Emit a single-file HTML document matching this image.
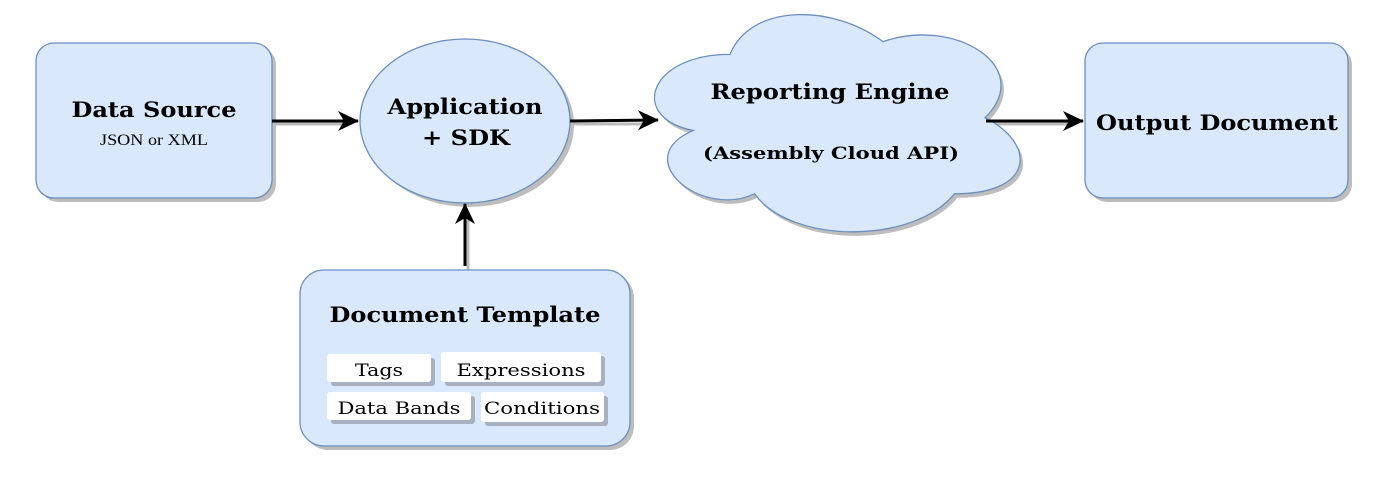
<!DOCTYPE html>
<html><head><meta charset="utf-8"><style>html,body{margin:0;padding:0;background:#fff}svg{display:block}</style></head><body>
<svg width="1385" height="485" viewBox="0 0 1385 485" xmlns="http://www.w3.org/2000/svg" font-family="'DejaVu Serif', 'Liberation Serif', serif">
<defs>
<marker id="ah" markerWidth="22" markerHeight="22" refX="20" refY="11" orient="auto" markerUnits="userSpaceOnUse"><path d="M0,1 L21,11 L0,21 L6,11 Z" fill="#000"/></marker>
</defs>
<g fill="#bdbdbd">
<rect x="40" y="47" width="236" height="155" rx="18"/>
<ellipse cx="469" cy="125" rx="105" ry="82"/>
<rect x="1089" y="47" width="263" height="155" rx="18"/>
<rect x="304" y="274" width="330" height="176" rx="24"/>
<path transform="translate(631,-5) scale(0.988,1)" d="M103.25,63.375 C20.65,63.375 0,126.75 66.08,139.425 C0,167.31 74.34,228.15 128.03,202.8 C165.2,253.5 289.1,253.5 330.4,202.8 C413,202.8 413,152.1 361.375,126.75 C413,76.05 330.4,25.35 258.125,50.7 C206.5,12.675 123.9,12.675 103.25,63.375 Z"/>
</g>
<g stroke="#bbb" stroke-width="3" fill="none">
<line x1="275" y1="124" x2="345" y2="124"/><line x1="573" y1="124" x2="645" y2="124"/><line x1="989" y1="124" x2="1070" y2="124"/><line x1="468" y1="270" x2="468" y2="220"/>
</g>
<g fill="#dae8fc" stroke="#6c8ebf" stroke-width="1.3">
<rect x="36" y="43" width="236" height="155" rx="18"/>
<ellipse cx="465" cy="121" rx="105" ry="82"/>
<rect x="1085" y="43" width="263" height="155" rx="18"/>
<rect x="300" y="270" width="330" height="176" rx="24"/>
<path transform="translate(628,-9) scale(0.988,1)" d="M103.25,63.375 C20.65,63.375 0,126.75 66.08,139.425 C0,167.31 74.34,228.15 128.03,202.8 C165.2,253.5 289.1,253.5 330.4,202.8 C413,202.8 413,152.1 361.375,126.75 C413,76.05 330.4,25.35 258.125,50.7 C206.5,12.675 123.9,12.675 103.25,63.375 Z"/>
</g>
<g stroke="#000" stroke-width="3" fill="none">
<line x1="272" y1="121" x2="358" y2="121" marker-end="url(#ah)"/>
<line x1="570" y1="121" x2="658" y2="120" marker-end="url(#ah)"/>
<line x1="986" y1="121" x2="1083" y2="121" marker-end="url(#ah)"/>
<line x1="465" y1="266" x2="465" y2="204" marker-end="url(#ah)"/>
</g>
<g fill="#a8b1c0">
<rect x="331" y="358" width="104" height="28" rx="3"/><rect x="445" y="356" width="160" height="30" rx="3"/>
<rect x="331" y="396" width="144" height="28" rx="3"/><rect x="485" y="396" width="123" height="30" rx="3"/>
</g>
<g fill="#fff">
<rect x="327" y="354" width="104" height="28" rx="3"/><rect x="441" y="352" width="160" height="30" rx="3"/>
<rect x="327" y="392" width="144" height="28" rx="3"/><rect x="481" y="392" width="123" height="30" rx="3"/>
</g>
<g font-weight="bold" font-size="21" text-anchor="middle" fill="#000">
<text x="154" y="117" textLength="165" lengthAdjust="spacingAndGlyphs">Data Source</text>
<text x="465" y="114" textLength="155" lengthAdjust="spacingAndGlyphs">Application</text>
<text x="466" y="145" textLength="88" lengthAdjust="spacingAndGlyphs">+ SDK</text>
<text x="830" y="99" textLength="239" lengthAdjust="spacingAndGlyphs">Reporting Engine</text>
<text x="831" y="159" font-size="17" textLength="256" lengthAdjust="spacingAndGlyphs">(Assembly Cloud API)</text>
<text x="1217" y="130" textLength="242" lengthAdjust="spacingAndGlyphs">Output Document</text>
<text x="465" y="322" textLength="271" lengthAdjust="spacingAndGlyphs">Document Template</text>
</g>
<text x="154" y="145" font-family="'Liberation Serif', serif" font-size="16" text-anchor="middle" textLength="108" lengthAdjust="spacingAndGlyphs">JSON or XML</text>
<g font-size="17" text-anchor="middle" fill="#000">
<text x="379" y="376" textLength="48" lengthAdjust="spacingAndGlyphs">Tags</text>
<text x="521" y="376" textLength="129" lengthAdjust="spacingAndGlyphs">Expressions</text>
<text x="399" y="414" textLength="123" lengthAdjust="spacingAndGlyphs">Data Bands</text>
<text x="542" y="414" textLength="116" lengthAdjust="spacingAndGlyphs">Conditions</text>
</g>
</svg>
</body></html>
